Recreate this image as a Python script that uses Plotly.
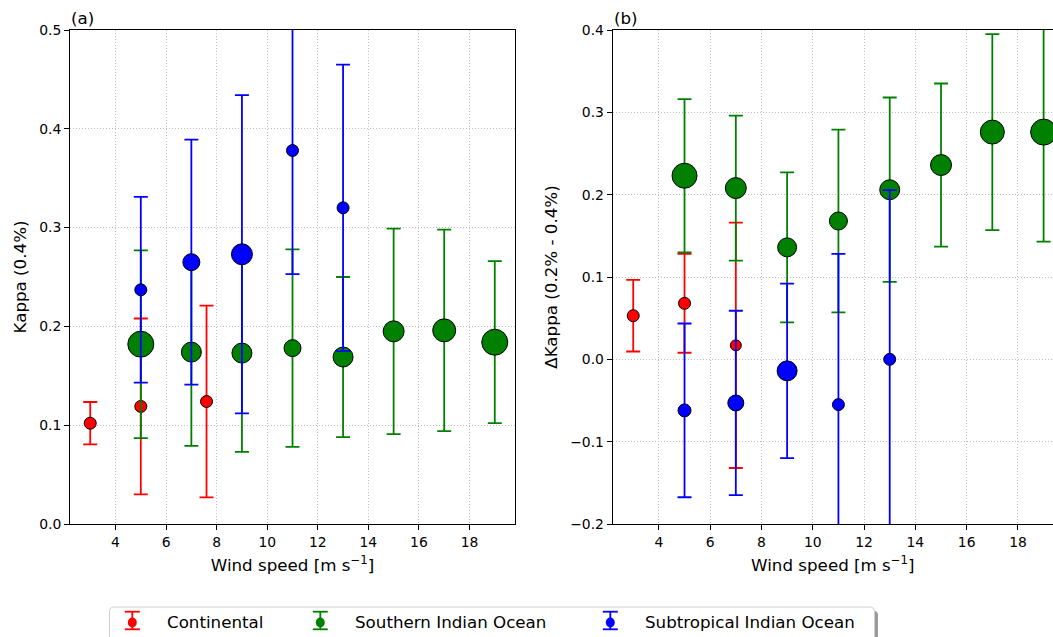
import plotly.graph_objects as go

# ---------------- data ----------------
# Panel (a): Kappa (0.4%)
a_cont_x = [3, 5, 7.6]
a_cont_y = [0.102, 0.119, 0.124]
a_cont_err = [0.0215, 0.089, 0.097]
a_cont_n = [13, 13, 13]

a_south_x = [5, 7, 9, 11, 13, 15, 17, 19]
a_south_y = [0.182, 0.174, 0.173, 0.178, 0.169, 0.195, 0.196, 0.184]
a_south_err = [0.095, 0.095, 0.100, 0.100, 0.081, 0.104, 0.102, 0.082]
a_south_n = [27, 21, 21, 18, 21, 22, 24, 27]

a_sub_x = [5, 7, 9, 11, 13]
a_sub_y = [0.237, 0.265, 0.273, 0.378, 0.320]
a_sub_err = [0.094, 0.124, 0.161, 0.125, 0.145]
a_sub_n = [13, 18, 22, 13, 13]

# Panel (b): Delta Kappa (0.2% - 0.4%)
b_cont_x = [3, 5, 7]
b_cont_y = [0.053, 0.068, 0.017]
b_cont_err = [0.0435, 0.060, 0.149]
b_cont_n = [13, 13, 12]

b_south_x = [5, 7, 9, 11, 13, 15, 17, 19]
b_south_y = [0.223, 0.208, 0.136, 0.168, 0.206, 0.236, 0.276, 0.276]
b_south_err = [0.093, 0.088, 0.091, 0.111, 0.112, 0.099, 0.119, 0.133]
b_south_n = [26, 22, 20, 19, 21, 22, 25, 27]

b_sub_x = [5, 7, 9, 11, 13]
b_sub_y = [-0.062, -0.053, -0.014, -0.055, 0.0]
b_sub_err = [0.1055, 0.112, 0.106, 0.183, 0.2055]
b_sub_n = [14, 17, 21, 13, 13]

names = ["Continental", "Southern Indian Ocean", "Subtropical Indian Ocean"]
colors = ["#ff0000", "#008000", "#0000ff"]

# ---------------- figure ----------------
W, H = 1053, 637
FONT = "DejaVu Sans"
fig = go.Figure()


def px_x(px):
    return px / W


def px_y(py):
    return (H - py) / H


def add(x, y, err, n, k, xa, ya):
    fig.add_trace(go.Scatter(
        x=x, y=y, mode="markers", name=names[k],
        xaxis=xa, yaxis=ya, showlegend=False, legendgroup=names[k],
        marker=dict(color=colors[k], size=[s - 1 for s in n], opacity=1,
                    line=dict(color="black", width=1)),
        error_y=dict(type="data", array=err, visible=True, color=colors[k],
                     thickness=1.8, width=7),
    ))


add(a_cont_x, a_cont_y, a_cont_err, a_cont_n, 0, "x", "y")
add(a_south_x, a_south_y, a_south_err, a_south_n, 1, "x", "y")
add(a_sub_x, a_sub_y, a_sub_err, a_sub_n, 2, "x", "y")
add(b_cont_x, b_cont_y, b_cont_err, b_cont_n, 0, "x2", "y2")
add(b_south_x, b_south_y, b_south_err, b_south_n, 1, "x2", "y2")
add(b_sub_x, b_sub_y, b_sub_err, b_sub_n, 2, "x2", "y2")

# legend entries (symbol drawn separately as an errorbar glyph)
legends = ["legend", "legend2", "legend3"]
for k, lg in enumerate(legends):
    fig.add_trace(go.Scatter(
        x=[None], y=[None], mode="markers", name=names[k], legend=lg,
        legendgroup=names[k], showlegend=True,
        marker=dict(color="rgba(0,0,0,0)", size=9, line=dict(width=0)),
    ))

# plot-area geometry (px)
L1, R1 = 70, 515
L2, R2 = 612.7, 1053
TOP, BOT = 30, 524
ydom = [px_y(BOT), px_y(TOP)]

tickfont = dict(family=FONT, size=13.9, color="black")
labfont = dict(family=FONT, size=16.7, color="black")

common_ax = dict(
    showgrid=True, gridcolor="#bdbdbd", gridwidth=1, griddash="1px,2px",
    zeroline=False, showline=True, linecolor="black", linewidth=1,
    ticks="outside", ticklen=5, tickwidth=1, tickcolor="black",
    tickfont=tickfont, automargin=False,
)

xtitle = "Wind speed [m s<sup>\u22121</sup>]"
fig.update_layout(
    width=W, height=H,
    margin=dict(l=0, r=0, t=0, b=0, autoexpand=False),
    paper_bgcolor="white", plot_bgcolor="white",
    font=dict(family=FONT, color="black"),
    xaxis=dict(domain=[px_x(L1), px_x(R1)], range=[2.2, 19.8], tick0=0, dtick=2,
               mirror=True, anchor="y",
               title=dict(text=xtitle, font=labfont, standoff=10),
               **common_ax),
    yaxis=dict(domain=ydom, range=[0, 0.5], dtick=0.1, tickformat=".1f",
               mirror=True, anchor="x",
               title=dict(text="Kappa (0.4%)", font=labfont, standoff=8),
               **common_ax),
    xaxis2=dict(domain=[px_x(L2), 1.0], range=[2.2, 2.2 + (R2 - L2) / 25.65], tick0=0, dtick=2,
                mirror=True, anchor="y2",
                title=dict(text=xtitle, font=labfont, standoff=10),
                **common_ax),
    yaxis2=dict(domain=ydom, range=[-0.2, 0.4], dtick=0.1, tickformat=".1f",
                mirror=False, anchor="x2",
                title=dict(text="\u0394Kappa (0.2% - 0.4%)", font=labfont, standoff=8),
                **common_ax),
)

# panel labels
for lbl, xl in (("(a)", L1), ("(b)", L2)):
    fig.add_annotation(text=lbl, xref="paper", yref="paper", x=px_x(xl), y=px_y(TOP),
                       xanchor="left", yanchor="bottom", showarrow=False,
                       font=labfont, xshift=-1, yshift=0)

# legend frame (rounded, with shadow)
def rounded(x0, x1, y0, y1, r):
    return (f"M {px_x(x0 + r)},{px_y(y0)} L {px_x(x1 - r)},{px_y(y0)} "
            f"Q {px_x(x1)},{px_y(y0)} {px_x(x1)},{px_y(y0 + r)} "
            f"L {px_x(x1)},{px_y(y1)} L {px_x(x0)},{px_y(y1)} "
            f"L {px_x(x0)},{px_y(y0 + r)} Q {px_x(x0)},{px_y(y0)} {px_x(x0 + r)},{px_y(y0)} Z")


fx0, fx1, fy0, fy1 = 109.5, 874.5, 607, 660
fig.add_shape(type="path", xref="paper", yref="paper", layer="below",
              path=rounded(fx0 + 3.5, fx1 + 3.5, fy0 + 4, fy1 + 4, 4),
              fillcolor="#9a9a9a", line=dict(width=0))
fig.add_shape(type="path", xref="paper", yref="paper", layer="below",
              path=rounded(fx0, fx1, fy0, fy1, 4),
              fillcolor="white", line=dict(color="#d0d0d0", width=1))

# legend errorbar glyphs + single-entry legends
text_x = [167, 355, 645]
glyph_dx = 34.7
gy_top, gy_bot, gy_mid = 611.7, 629.3, 622.5
for k, (lg, tx) in enumerate(zip(legends, text_x)):
    gx = tx - glyph_dx
    c = colors[k]
    fig.add_shape(type="line", xref="paper", yref="paper",
                  x0=px_x(gx), x1=px_x(gx), y0=px_y(gy_top), y1=px_y(gy_bot),
                  line=dict(color=c, width=1.8))
    for cy in (gy_top, gy_bot):
        fig.add_shape(type="line", xref="paper", yref="paper",
                      x0=px_x(gx - 7.5), x1=px_x(gx + 7.5), y0=px_y(cy), y1=px_y(cy),
                      line=dict(color=c, width=1.8))
    fig.add_shape(type="circle", xref="paper", yref="paper",
                  x0=px_x(gx - 4.5), x1=px_x(gx + 4.5),
                  y0=px_y(gy_mid + 5), y1=px_y(gy_mid - 5),
                  fillcolor=c, line=dict(width=0))
    fig.update_layout({lg: dict(
        x=px_x(tx - 40), xanchor="left", y=px_y(622), yanchor="middle",
        orientation="h", bgcolor="rgba(0,0,0,0)", borderwidth=0,
        font=dict(family=FONT, size=16.7, color="black"),
    )})

fig.write_html("out.html")
